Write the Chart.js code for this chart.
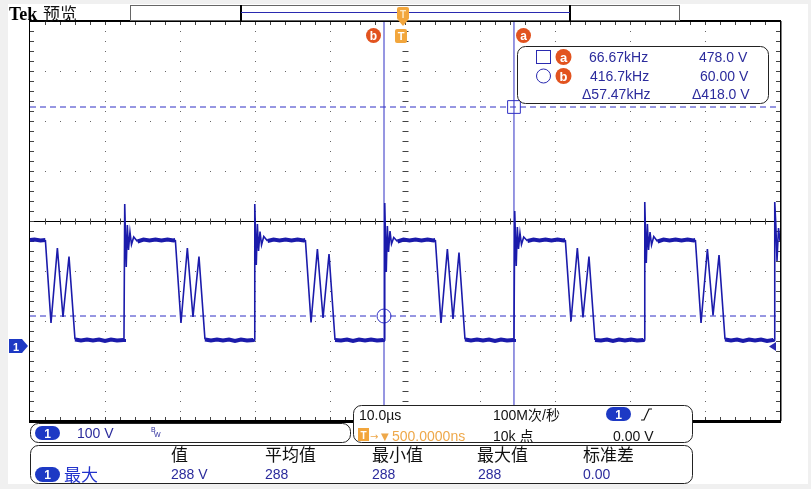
<!DOCTYPE html>
<html>
<head>
<meta charset="utf-8">
<title>Tek 预览</title>
<script src="https://cdn.jsdelivr.net/npm/chart.js@4.4.1/dist/chart.umd.min.js"></script>
<style>
  body { margin: 0; background: #f0f0f0; }
  #wrap { position: relative; width: 811px; height: 489px; overflow: hidden; }
  #paper { position: absolute; left: 8px; top: 4px; width: 800px; height: 480px; background: #fff; }
  #scope { position: absolute; left: 0; top: 0; }
  #overlay { position: absolute; left: 0; top: 0; pointer-events: none; }
  .num { font-family: "Liberation Sans", Arial, sans-serif; font-size: 14px; }
  .cjk { font-family: "Liberation Sans", "Noto Sans CJK SC", sans-serif; }
</style>
</head>
<body>
<div id="wrap">
  <div id="paper"></div>
  <canvas id="scope" width="811" height="489"></canvas>
  <svg id="overlay" width="811" height="489" xmlns="http://www.w3.org/2000/svg">
    <!-- title + record bar -->
    <text x="9" y="20" font-family="Liberation Serif" font-weight="bold" font-size="18" fill="#000">Tek</text>
    <text x="43" y="20" font-family="Noto Sans CJK SC" font-size="17" fill="#111">预览</text>
    <rect x="130.5" y="5.5" width="549" height="15" fill="#fff" stroke="#666"/>
    <line x1="241" y1="5" x2="241" y2="21" stroke="#000" stroke-width="2"/>
    <line x1="570" y1="5" x2="570" y2="21" stroke="#000" stroke-width="2"/>
    <line x1="241" y1="12.5" x2="570" y2="12.5" stroke="#2a2ab0" stroke-width="1.2"/>

    <!-- trigger position markers -->
    <rect x="397" y="7" width="12" height="13" rx="2" fill="#f2a63c"/>
    <text x="403" y="17.5" text-anchor="middle" font-family="Liberation Sans" font-weight="bold" font-size="10" fill="#fde7c0">T</text>
    <polygon points="398,20 408,20 403,26" fill="#f2a63c"/>
    <rect x="395" y="29" width="12" height="14" rx="2" fill="#f2a63c"/>
    <text x="401" y="40" text-anchor="middle" font-family="Liberation Sans" font-weight="bold" font-size="11" fill="#fff">T</text>

    <!-- cursor tags -->
    <circle cx="373.5" cy="35.5" r="7.5" fill="#e2531f"/>
    <text x="373.5" y="40" text-anchor="middle" font-family="Liberation Sans" font-weight="bold" font-size="12" fill="#fff">b</text>
    <circle cx="523.5" cy="35.5" r="7.5" fill="#e2531f"/>
    <text x="523.5" y="40" text-anchor="middle" font-family="Liberation Sans" font-weight="bold" font-size="12" fill="#fff">a</text>

    <!-- cursor readout -->
    <rect x="517.5" y="46.5" width="251" height="57" rx="8" fill="#fff" stroke="#222"/>
    <rect x="536.5" y="50.5" width="14" height="13" fill="none" stroke="#2a2ab0"/>
    <circle cx="563.5" cy="57" r="8" fill="#e2531f"/>
    <text x="563.5" y="61.5" text-anchor="middle" font-family="Liberation Sans" font-weight="bold" font-size="13" fill="#fff">a</text>
    <text x="589" y="62" class="num" fill="#2b2b9c">66.67kHz</text>
    <text x="699" y="62" class="num" fill="#2b2b9c">478.0 V</text>
    <circle cx="543.5" cy="76" r="7" fill="none" stroke="#2a2ab0"/>
    <circle cx="563.5" cy="76" r="8" fill="#e2531f"/>
    <text x="563.5" y="80.5" text-anchor="middle" font-family="Liberation Sans" font-weight="bold" font-size="13" fill="#fff">b</text>
    <text x="590" y="81" class="num" fill="#2b2b9c">416.7kHz</text>
    <text x="700" y="81" class="num" fill="#2b2b9c">60.00 V</text>
    <text x="582" y="99" class="num" fill="#2b2b9c">Δ57.47kHz</text>
    <text x="692" y="99" class="num" fill="#2b2b9c">Δ418.0 V</text>

    <!-- channel 1 ground marker + right end arrow -->
    <polygon points="9,339 22,339 28,346 22,353 9,353" fill="#1d39c4"/>
    <text x="16" y="350.5" text-anchor="middle" font-family="Liberation Sans" font-weight="bold" font-size="11" fill="#fff">1</text>
    <polygon points="769,346.5 776,342 776,351" fill="#2a2ab0"/>

    <!-- channel box -->
    <rect x="30.5" y="423.5" width="320" height="19" rx="8" fill="#fff" stroke="#222"/>
    <rect x="35" y="426" width="25" height="14" rx="7" fill="#1d39c4"/>
    <text x="47.5" y="437.5" text-anchor="middle" font-family="Liberation Sans" font-weight="bold" font-size="12" fill="#fff">1</text>
    <text x="77" y="438" class="num" fill="#2b2b9c">100 V</text>
    <text x="151" y="432" font-family="Liberation Sans" font-size="7" fill="#2b2b9c">B</text>
    <text x="154" y="437" font-family="Liberation Sans" font-size="7" fill="#2b2b9c">W</text>

    <!-- timebase / trigger box -->
    <rect x="353.5" y="405.5" width="339" height="37" rx="8" fill="#fff" stroke="#222"/>
    <text x="359" y="420" class="num" fill="#111">10.0µs</text>
    <rect x="358" y="428" width="11" height="13" fill="#f2a63c"/>
    <text x="363.5" y="438.5" text-anchor="middle" font-family="Liberation Sans" font-weight="bold" font-size="10" fill="#fff">T</text>
    <text x="370" y="440" font-family="DejaVu Sans" font-size="10" fill="#eea84a">→</text>
    <text x="381" y="440" font-family="DejaVu Sans" font-size="10" fill="#eea84a">▼</text>
    <text x="392" y="441" class="num" fill="#eea84a">500.0000ns</text>
    <text x="493" y="420" class="cjk" font-size="14" fill="#111">100M次/秒</text>
    <text x="493" y="441" class="cjk" font-size="14" fill="#111">10k 点</text>
    <rect x="606" y="407" width="25" height="14" rx="7" fill="#1d39c4"/>
    <text x="618.5" y="418.5" text-anchor="middle" font-family="Liberation Sans" font-weight="bold" font-size="12" fill="#fff">1</text>
    <polyline points="641,420 644,420 649,409 652,409" fill="none" stroke="#111" stroke-width="1.2"/>
    <text x="613" y="441" class="num" fill="#111">0.00 V</text>

    <!-- measurement box -->
    <rect x="30.5" y="445.5" width="662" height="38" rx="8" fill="#fff" stroke="#222"/>
    <text x="171" y="461" font-family="Noto Sans CJK SC" font-size="17" fill="#111">值</text>
    <text x="265" y="461" font-family="Noto Sans CJK SC" font-size="17" fill="#111">平均值</text>
    <text x="372" y="461" font-family="Noto Sans CJK SC" font-size="17" fill="#111">最小值</text>
    <text x="477" y="461" font-family="Noto Sans CJK SC" font-size="17" fill="#111">最大值</text>
    <text x="583" y="461" font-family="Noto Sans CJK SC" font-size="17" fill="#111">标准差</text>
    <rect x="35" y="467" width="25" height="15" rx="7.5" fill="#1d39c4"/>
    <text x="47.5" y="479" text-anchor="middle" font-family="Liberation Sans" font-weight="bold" font-size="12" fill="#fff">1</text>
    <text x="64" y="481" font-family="Noto Sans CJK SC" font-size="17" fill="#2233cc">最大</text>
    <text x="171" y="479" class="num" fill="#2b2b9c">288 V</text>
    <text x="265" y="479" class="num" fill="#2b2b9c">288</text>
    <text x="372" y="479" class="num" fill="#2b2b9c">288</text>
    <text x="478" y="479" class="num" fill="#2b2b9c">288</text>
    <text x="583" y="479" class="num" fill="#2b2b9c">0.00</text>
  </svg>
</div>
<script>
'use strict';
/*----------------- waveform, time in µs (10 µs/div), volts (100 V/div) -----------------*/
const traceTimes = [
  -50, -49.4, -48.6, -47.95, -47.2, -46.35, -45.6, -44.8, -44.0, -43.2, -42.4, -41.6, -40.8, -40.0, -39.2, -38.4, -37.55,
  -37.47, -37.37, -37.17, -37.02, -36.87, -36.67, -36.47, -36.17, -35.67, -34.87, -34.07, -33.27, -32.47, -31.67, -30.87, -30.62,
  -29.87, -29.02, -28.27, -27.47, -26.67, -25.87, -25.07, -24.27, -23.47, -22.67, -21.87, -21.07, -20.22,
  -20.13, -20.03, -19.83, -19.68, -19.53, -19.33, -19.13, -18.83, -18.33, -17.53, -16.73, -15.93, -15.13, -14.33, -13.53, -13.28,
  -12.53, -11.68, -10.93, -10.13, -9.33, -8.53, -7.73, -6.93, -6.13, -5.33, -4.53, -3.73, -2.88,
  -2.8, -2.7, -2.5, -2.35, -2.2, -2.0, -1.8, -1.5, -1.0, -0.2, 0.6, 1.4, 2.2, 3.0, 3.8, 4.05,
  4.8, 5.65, 6.4, 7.2, 8.0, 8.8, 9.6, 10.4, 11.2, 12.0, 12.8, 13.6, 14.45,
  14.53, 14.63, 14.83, 14.98, 15.13, 15.33, 15.53, 15.83, 16.33, 17.13, 17.93, 18.73, 19.53, 20.33, 21.13, 21.38,
  22.13, 22.98, 23.73, 24.53, 25.33, 26.13, 26.93, 27.73, 28.53, 29.33, 30.13, 30.93, 31.78,
  31.87, 31.97, 32.17, 32.32, 32.47, 32.67, 32.87, 33.17, 33.67, 34.47, 35.27, 36.07, 36.87, 37.67, 38.47, 38.72,
  39.47, 40.32, 41.07, 41.87, 42.67, 43.47, 44.27, 45.07, 45.87, 46.67, 47.47, 48.27, 49.12,
  49.2, 49.3, 49.45, 49.6, 49.8, 50
];
const traceVolts = [
  212, 213, 211, 212, 46, 196, 58, 179, 13, 11, 13, 11, 13, 10, 13, 11, 12,
  14, 284, 158, 242, 192, 228, 203, 218, 209, 213, 211, 213, 211, 213, 211, 212,
  46, 196, 58, 179, 13, 11, 13, 11, 13, 10, 13, 11, 12,
  14, 284, 162, 244, 190, 229, 202, 219, 210, 213, 211, 213, 211, 213, 211, 212,
  47, 194, 56, 184, 12, 11, 13, 10, 13, 11, 13, 11, 12,
  14, 286, 148, 240, 188, 230, 204, 217, 209, 213, 211, 213, 211, 213, 211, 212,
  46, 194, 54, 187, 13, 11, 13, 11, 13, 10, 13, 11, 12,
  14, 270, 160, 238, 194, 226, 203, 218, 210, 213, 211, 213, 211, 213, 211, 212,
  49, 196, 57, 179, 12, 11, 13, 10, 13, 11, 13, 11, 12,
  14, 288, 166, 244, 192, 228, 202, 219, 209, 213, 211, 213, 211, 213, 211, 212,
  46, 194, 61, 182, 13, 11, 13, 10, 13, 11, 13, 10, 12,
  14, 288, 240, 170, 236, 210
];
/*----------------- cursors: a, b -----------------*/
const cursorNames = ['a', 'b'];
const cursorTimes = [14.53, -2.8];
const cursorVolts = [478, 60];
const screenVolts = [-150, 650];
const screenTimes = [-50, 50];

const traceColor = '#1b1bab';
const cursorColor = '#2f2fc4';

function vLine(t) {
  return [{ x: t, y: screenVolts[0] }, { x: t, y: screenVolts[1] }];
}
function hLine(v) {
  return [{ x: screenTimes[0], y: v }, { x: screenTimes[1], y: v }];
}
// noisy flat parts of the trace look thick on the scope, the fast edges thin
function segWidth(c) {
  return Math.abs(c.p1.parsed.y - c.p0.parsed.y) < 8 ? 4 : 1.6;
}

/*----------------- graticule: centre line, minor ticks and frame -----------------*/
const graticule = {
  id: 'graticule',
  beforeDatasetsDraw(chart) {
    const { ctx, chartArea, scales } = chart;
    const { left, right, top, bottom } = chartArea;
    const midX = Math.round(scales.x.getPixelForValue(0)) + 0.5;
    const midY = Math.round(scales.y.getPixelForValue(250)) + 0.5;
    const stepX = (right - left) / 50;
    const stepY = (bottom - top) / 40;
    ctx.save();
    ctx.strokeStyle = '#000';
    ctx.lineWidth = 1;
    ctx.beginPath();
    ctx.moveTo(left, midY);
    ctx.lineTo(right, midY);
    ctx.stroke();
    ctx.strokeStyle = '#444';
    ctx.beginPath();
    for (let i = 1; i < 50; i++) {
      const px = Math.round(left + i * stepX) + 0.5;
      ctx.moveTo(px, top); ctx.lineTo(px, top + 4);
      ctx.moveTo(px, bottom); ctx.lineTo(px, bottom - 4);
      ctx.moveTo(px, midY - 3); ctx.lineTo(px, midY + 3);
    }
    for (let j = 1; j < 40; j++) {
      const py = Math.round(top + j * stepY) + 0.5;
      ctx.moveTo(left, py); ctx.lineTo(left + 4, py);
      ctx.moveTo(right, py); ctx.lineTo(right - 4, py);
      ctx.moveTo(midX - 3, py); ctx.lineTo(midX + 3, py);
    }
    ctx.stroke();
    ctx.restore();
  },
  afterDraw(chart) {
    const { ctx, chartArea } = chart;
    const { left, right, top, bottom } = chartArea;
    ctx.save();
    ctx.fillStyle = '#000';
    ctx.fillRect(left - 1, top - 1, right - left + 2, 2);
    ctx.fillRect(left - 1, bottom - 1, right - left + 2, 3);
    ctx.fillRect(left - 1, top, 1, bottom - top);
    ctx.fillRect(right, top, 1.5, bottom - top);
    ctx.restore();
  }
};

/*----------------- chart -----------------*/
const ctx = document.getElementById('scope').getContext('2d');
const chart = new Chart(ctx, {
  type: 'line',
  data: {
    datasets: [
      {
        label: 'CH1',
        data: traceTimes.map((t, i) => ({ x: t, y: traceVolts[i] })),
        borderColor: traceColor,
        borderWidth: 1.6,
        segment: { borderWidth: segWidth },
        pointRadius: 0,
        tension: 0
      },
      {
        label: 'cursor a time',
        data: vLine(cursorTimes[0]),
        borderColor: cursorColor,
        borderWidth: 1,
        pointRadius: 0
      },
      {
        label: 'cursor b time',
        data: vLine(cursorTimes[1]),
        borderColor: cursorColor,
        borderWidth: 1,
        pointRadius: 0
      },
      {
        label: 'cursor a volts',
        data: hLine(cursorVolts[0]),
        borderColor: cursorColor,
        borderWidth: 1,
        borderDash: [6, 4],
        pointRadius: 0
      },
      {
        label: 'cursor b volts',
        data: hLine(cursorVolts[1]),
        borderColor: cursorColor,
        borderWidth: 1,
        borderDash: [6, 4],
        pointRadius: 0
      },
      {
        label: 'cursor points',
        data: cursorNames.map((n, i) => ({ x: cursorTimes[i], y: cursorVolts[i] })),
        showLine: false,
        pointStyle: ['rect', 'circle'],
        pointRadius: [9, 7],
        pointBorderColor: cursorColor,
        pointBackgroundColor: 'rgba(0,0,0,0)',
        pointBorderWidth: 1
      }
    ]
  },
  options: {
    responsive: false,
    animation: false,
    events: [],
    layout: { padding: { left: 30, top: 21, right: 31, bottom: 68 } },
    scales: {
      x: {
        type: 'linear',
        min: screenTimes[0],
        max: screenTimes[1],
        ticks: { display: false, stepSize: 10 },
        grid: { color: '#666', lineWidth: 1, drawTicks: false },
        border: { display: false, dash: [1, 9] }
      },
      y: {
        min: screenVolts[0],
        max: screenVolts[1],
        ticks: { display: false, stepSize: 100 },
        grid: { color: '#666', lineWidth: 1, drawTicks: false },
        border: { display: false, dash: [1, 14] }
      }
    },
    plugins: {
      legend: { display: false },
      tooltip: { enabled: false }
    }
  },
  plugins: [graticule]
});
</script>
</body>
</html>
